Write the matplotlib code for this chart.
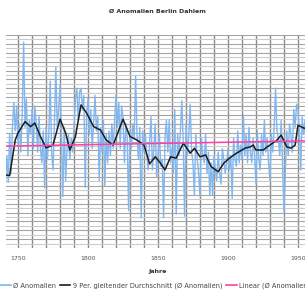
import numpy as np
import matplotlib
matplotlib.use("Agg")
import matplotlib.pyplot as plt

# yearly anomalies, 1741..1959
years = np.arange(1741, 1960)
anomalies = [
    -1.2, -0.4, -1.15, 0.2, -0.9, 0.4, 1.1, 0.3, 1.0,
    -0.1, 0.5, -0.3, 0.8, 2.8, 0.4, 1.2, -0.4, 0.6, 0.2,
    0.9, -0.2, 1.0, 0.5, -0.3, 0.7, -0.2, -0.6, 0.3, -1.3,
    0.4, -0.5, 0.2, 1.7, -0.3, -0.8, 0.5, 2.1, 0.4, 0.9,
    1.6, 0.3, -1.55, 0.4, -1.1, -0.2, 0.2, -0.5, 0.1, -0.3,
    0.4, 1.2, 1.5, 0.6, 1.4, 1.5, 0.9, 1.3, -1.3, 0.8,
    1.2, 0.2, 0.9, -0.2, 0.5, 1.3, 0.3, 0.7, -1.1, 0.4,
    -0.3, 0.6, -1.25, 0.2, -0.6, 0.3, -0.4, 0.5, -0.2, 0.6,
    1.3, 0.4, 1.1, -0.2, 1.0, 0.7, -0.6, 0.5, 0.1, -1.95,
    0.3, -0.2, 0.5, 0.1, 1.85, 0.2, -0.5, 0.4, -2.15, 0.3,
    -0.3, 0.2, -0.4, -0.8, 0.0, 0.7, -0.8, -0.2, 0.5, -1.0,
    -0.4, 0.2, -0.7, -0.5, -2.15, 0.1, 0.6, -0.3, 0.6, -0.6,
    -0.2, -0.9, 0.9, -2.05, 0.2, -0.4, 0.3, 1.15, 0.0, -2.1,
    0.5, -0.4, 0.2, 1.05, -0.3, -0.6, -1.5, 0.2, -0.5, -0.9,
    -1.55, 0.1, -0.4, -0.6, 0.2, -0.9, -0.3, -1.5, -0.6, -1.5,
    -0.4, -0.8, -1.1, -0.3, -0.9, -1.2, -0.2, -0.5, -0.9, -0.6,
    -0.2, -0.8, -0.4, -1.6, 0.1, -0.5, -0.7, 0.3, -0.6, -0.1,
    -0.5, 0.75, -0.4, 0.2, -0.6, 0.4, -0.3, -0.6, 0.1, -0.4,
    -1.2, 0.3, -0.5, -0.8, 0.2, -0.4, 0.6, -0.3, 0.1, -0.6,
    -1.1, 0.2, -0.3, 0.4, 1.5, 0.3, 0.1, -0.4, 0.6, -0.7,
    -1.98, -0.8, 0.3, -0.4, 0.5, 0.2, -0.3, 0.9, 0.4, 1.05,
    0.9, 0.3, -0.8, 0.7, 0.2, 0.6, -0.5, 0.8, 0.5, 0.3,
]

# 9 year moving average as drawn
ma_years = [1741, 1744, 1748, 1750, 1755, 1759, 1762, 1766, 1770, 1775,
            1780, 1784, 1787, 1791, 1795, 1799, 1804, 1809, 1813, 1818,
            1822, 1825, 1830, 1835, 1840, 1844, 1848, 1851, 1855, 1859,
            1863, 1868, 1870, 1873, 1876, 1880, 1884, 1888, 1893, 1897,
            1901, 1906, 1910, 1912, 1916, 1918, 1920, 1925, 1930, 1935,
            1938, 1942, 1945, 1948, 1950, 1954, 1958]
ma_values = [-0.94, -0.96, 0.04, 0.24, 0.56, 0.42, 0.52, 0.14, -0.18, -0.1,
             0.63, 0.24, -0.24, 0.14, 1.03, 0.8, 0.42, 0.32, 0.04, -0.1,
             0.32, 0.63, 0.14, 0.04, -0.1, -0.63, -0.43, -0.57, -0.8, -0.43,
             -0.47, -0.05, -0.15, -0.33, -0.19, -0.43, -0.38, -0.71, -0.85, -0.61,
             -0.47, -0.33, -0.24, -0.19, -0.15, -0.1, -0.24, -0.24, -0.1, 0.04,
             0.18, -0.15, -0.19, -0.1, 0.46, 0.38, 0.35]

# linear trend end points
trend_years = [1741, 1959]
trend_values = [-0.13, 0.02]

W, H = 305, 293
fig = plt.figure(figsize=(W / 100, H / 100), dpi=100)
ax = fig.add_axes([6 / W, 1 - 248 / H, 304 / W, 213 / H])

ax.plot(years, anomalies, color="#82b6ee", lw=1.0, zorder=2)
ax.plot(ma_years, ma_values, color="#1c1c1c", lw=1.1, zorder=3)
ax.plot(trend_years, trend_values, color="#ff40a8", lw=1.1, zorder=4)

ax.set_xlim(1741.4, 1958.6)
ax.set_ylim(-3, 3)
ax.set_xticks(range(1750, 1960, 50))
ax.set_xticks(range(1750, 1960, 10), minor=True)
ax.set_yticks(np.arange(-3, 3.01, 0.25))
ax.set_yticks(np.arange(-2.875, 3, 0.25), minor=True)
ax.set_yticklabels([])
ax.grid(True, axis="x", which="both", color="#8a8a8a", lw=1.0)
ax.grid(True, axis="y", which="major", color="#a4a4a4", lw=0.8)
ax.grid(True, axis="y", which="minor", color="#cccccc", lw=0.8)
ax.tick_params(axis="both", which="both", length=0)
ax.tick_params(axis="x", labelsize=4.5, labelcolor="#555555", pad=6)
for s in ax.spines.values():
    s.set_visible(False)
ax.set_axisbelow(True)

fig.text(157 / W, 1 - 11 / H, "Ø Anomalien Berlin Dahlem", ha="center", va="center",
         fontsize=4.5, fontweight="bold", color="#333333")
fig.text(157 / W, 1 - 272 / H, "Jahre", ha="center", va="center",
         fontsize=4.5, fontweight="bold", color="#333333")

handles = [plt.Line2D([], [], color="#82b6ee", lw=1.2),
           plt.Line2D([], [], color="#1c1c1c", lw=1.2),
           plt.Line2D([], [], color="#ff40a8", lw=1.2)]
labels = ["Ø Anomalien", "9 Per. gleitender Durchschnitt (Ø Anomalien)", "Linear (Ø Anomalien)"]
fig.legend(handles, labels, loc="center left", bbox_to_anchor=(0.0, 1 - 286 / H),
           ncol=3, frameon=False, fontsize=4.8, handlelength=1.6, handletextpad=0.4,
           columnspacing=0.5, borderpad=0, borderaxespad=0, labelcolor="#444444")

fig.savefig("out.png", dpi=100)
